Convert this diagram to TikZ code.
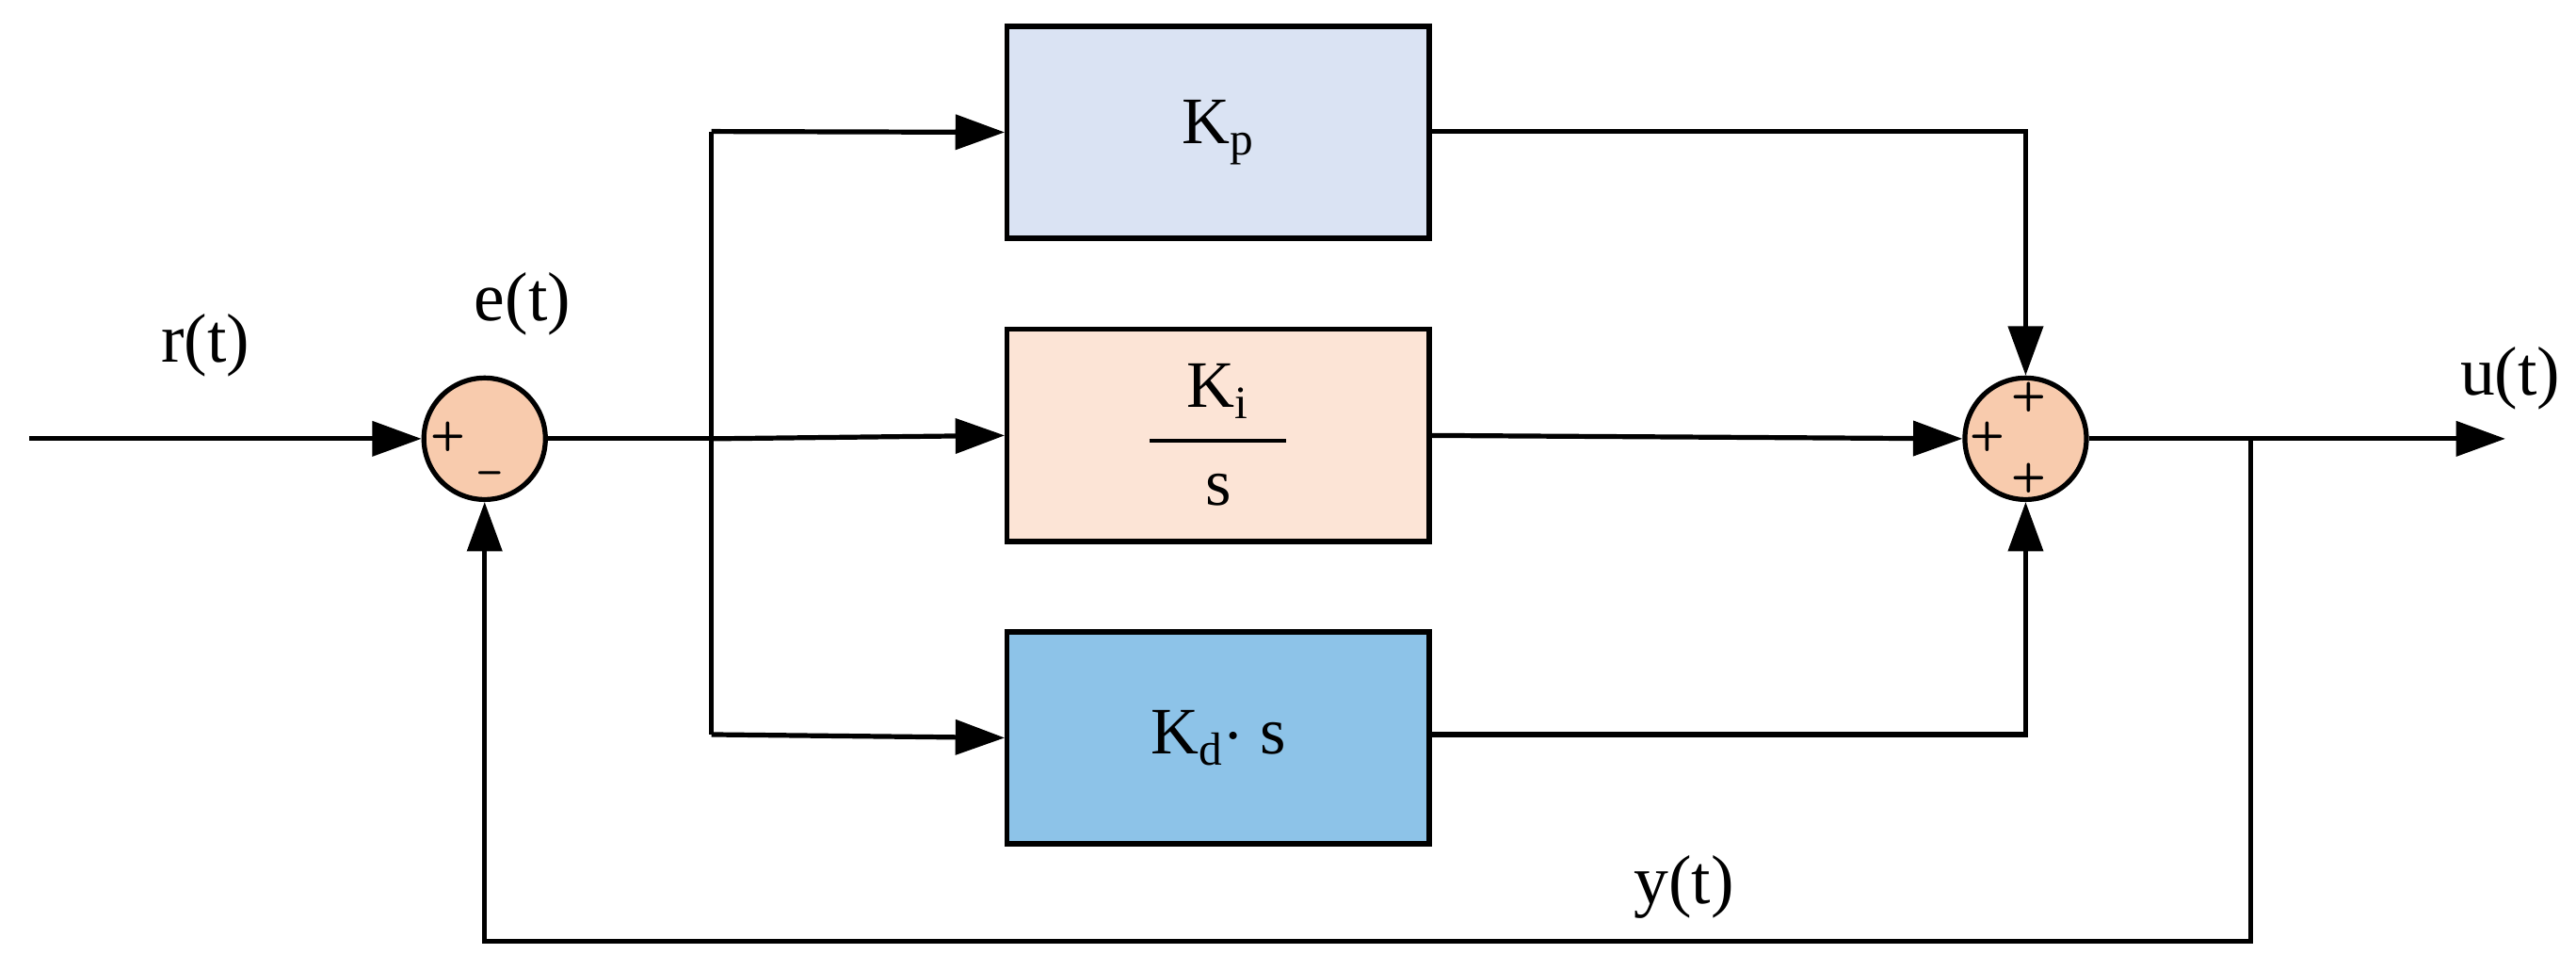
\documentclass[tikz,border=0pt]{standalone}
\usepackage{fontspec}
\setmainfont{Liberation Serif}
\usetikzlibrary{arrows.meta}
\definecolor{kp}{HTML}{DAE3F3}
\definecolor{ki}{HTML}{FCE4D6}
\definecolor{kd}{HTML}{8DC3E8}
\definecolor{sm}{HTML}{F8CBAD}
\begin{document}
\begin{tikzpicture}[x=0.02cm,y=-0.02cm,line width=1.7pt,
  box/.style={draw,minimum width=5.14cm,minimum height=2.58cm,inner sep=0pt,font=\fontsize{23}{27}\selectfont},
  sum/.style={circle,draw,fill=sm,minimum size=1.48cm,inner sep=0pt},
  lab/.style={font=\fontsize{24}{28}\selectfont},
  sg/.style={font=\sffamily\bfseries\fontsize{14}{14}\selectfont,inner sep=0pt},
  >={Triangle[length=0.6cm,width=0.42cm]}]
\useasboundingbox (0,0) rectangle (1568,590);
\node[sum] (s1) at (295,267) {};
\node[sum] (s2) at (1233,267) {};
\node[box,fill=kp] (kp) at (741.5,80.5) {K\textsubscript{p}};
\node[box,fill=ki] (ki) at (741.5,265) {};
\node[box,fill=kd] (kd) at (741.5,449) {K\textsubscript{d}$\cdot$ s};
\node[lab,font=\fontsize{23}{27}\selectfont] (kin) at (741.5,238) {K\textsubscript{i}};
\node[lab,font=\fontsize{23}{27}\selectfont] (ks) at (741.5,298) {s};
\draw[line width=1.3pt] (700,268) -- (783,268);
\coordinate (in) at (18,267);
\coordinate (b1) at (433,267);
\coordinate (b1t) at (433,80);
\coordinate (b1b) at (433,447);
\coordinate (o) at (1525,267);
\coordinate (fb) at (1370,267);
\coordinate (fbb) at (1370,573);
\coordinate (fbl) at (295,573);
\coordinate (c2t) at (1233,80);
\coordinate (c2b) at (1233,447);
\draw[->] (in) -- (s1.west);
\draw (s1.east) -- (b1);
\draw[->] (b1) -- (ki.west);
\draw[->] (b1t) -- (kp.west);
\draw[->] (b1b) -- (kd.west);
\draw (b1t) -- (b1b);
\draw[->] (kp.east |- c2t) -- (c2t) -- (s2.north);
\draw[->] (ki.east) -- (s2.west);
\draw[->] (kd.east |- c2b) -- (c2b) -- (s2.south);
\draw[->] (s2.east) -- (o);
\draw[->] (fb) -- (fbb) -- (fbl) -- (s1.south);
\node[lab] (r) at (125,210) {r(t)};
\node[lab] (e) at (318,185) {e(t)};
\node[lab] (u) at (1528,230) {u(t)};
\node[lab] (y) at (1025,540) {y(t)};
\node[sg] at (273,266) {+};
\node[sg] at (298,291) {\textendash};
\node[sg] at (1235,242) {+};
\node[sg] at (1210,266) {+};
\node[sg] at (1235,291) {+};
\end{tikzpicture}
\end{document}
